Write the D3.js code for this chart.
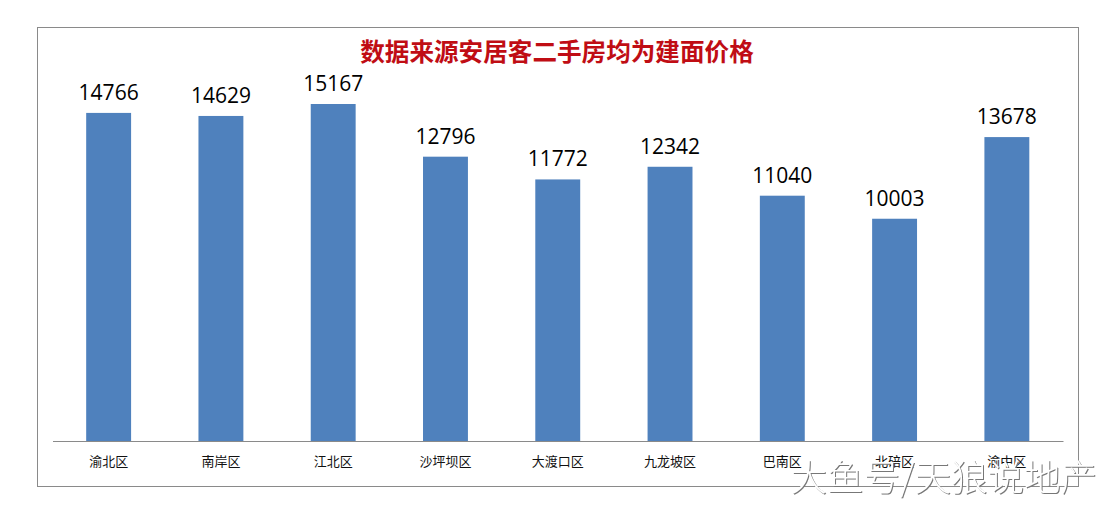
<!DOCTYPE html>
<html>
<head>
<meta charset="utf-8">
<script src="https://cdn.jsdelivr.net/npm/d3@7"></script>
<style>
  html, body { margin: 0; padding: 0; background: #fff; }
  svg { display: block; }
</style>
</head>
<body>
<div id="chart"></div>
<script>
// chart data
const districts = ["渝北区", "南岸区", "江北区", "沙坪坝区", "大渡口区", "九龙坡区", "巴南区", "北碚区", "渝中区"];
const prices = [14766, 14629, 15167, 12796, 11772, 12342, 11040, 10003, 13678];
const chartTitle = "数据来源安居客二手房均为建面价格";
const watermark = "大鱼号/天狼说地产";

const cjkFont = "'Noto Sans CJK SC', sans-serif";
const width = 1115;
const height = 520;

const svg = d3.select("#chart").append("svg")
  .attr("width", width)
  .attr("height", height);

// outer chart frame
svg.append("rect")
  .attr("x", 37.5)
  .attr("y", 27.5)
  .attr("width", 1041)
  .attr("height", 459)
  .attr("fill", "#fff")
  .attr("stroke", "#8a8a8a")
  .attr("stroke-width", 1);

// scales
const xScale = d3.scaleBand()
  .domain(districts)
  .range([52.5, 1063])
  .paddingInner(0.6)
  .paddingOuter(0.3);

const yScale = d3.scaleLinear()
  .domain([0, d3.max(prices)])
  .range([441, 104]);

// bars
svg.selectAll(".bar")
  .data(districts)
  .join("rect")
  .attr("class", "bar")
  .attr("x", d => xScale(d))
  .attr("y", (d, i) => yScale(prices[i]))
  .attr("width", xScale.bandwidth())
  .attr("height", (d, i) => yScale(0) - yScale(prices[i]))
  .attr("fill", "#4f81bd");

// x axis
const xAxis = svg.append("g")
  .attr("class", "axis axis--x")
  .attr("transform", "translate(0, 441)")
  .call(d3.axisBottom(xScale).tickSize(0).tickPadding(16));

xAxis.select(".domain")
  .attr("stroke", "#8a8a8a")
  .attr("stroke-width", 1);

xAxis.selectAll("text")
  .style("font-family", cjkFont)
  .style("font-size", "13px")
  .attr("fill", "#111");

// value labels
svg.selectAll(".value")
  .data(districts)
  .join("text")
  .attr("class", "value")
  .attr("x", d => xScale(d) + xScale.bandwidth() / 2)
  .attr("y", (d, i) => yScale(prices[i]) - 13)
  .attr("text-anchor", "middle")
  .style("font-family", "'Open Sans', sans-serif")
  .style("font-size", "21px")
  .attr("fill", "#000")
  .text((d, i) => prices[i]);

// title
svg.append("text")
  .attr("x", 557)
  .attr("y", 61)
  .attr("text-anchor", "middle")
  .style("font-family", cjkFont)
  .style("font-size", "24.6px")
  .style("font-weight", "700")
  .attr("fill", "#c00d14")
  .text(chartTitle);

// white watermark with a thin grey shadow
svg.append("text")
  .attr("x", 1097)
  .attr("y", 491)
  .attr("text-anchor", "end")
  .style("font-family", cjkFont)
  .style("font-size", "36.5px")
  .style("font-weight", "300")
  .style("filter", "drop-shadow(1px 1px 0.5px #777)")
  .attr("fill", "#fff")
  .text(watermark);
</script>
</body>
</html>
